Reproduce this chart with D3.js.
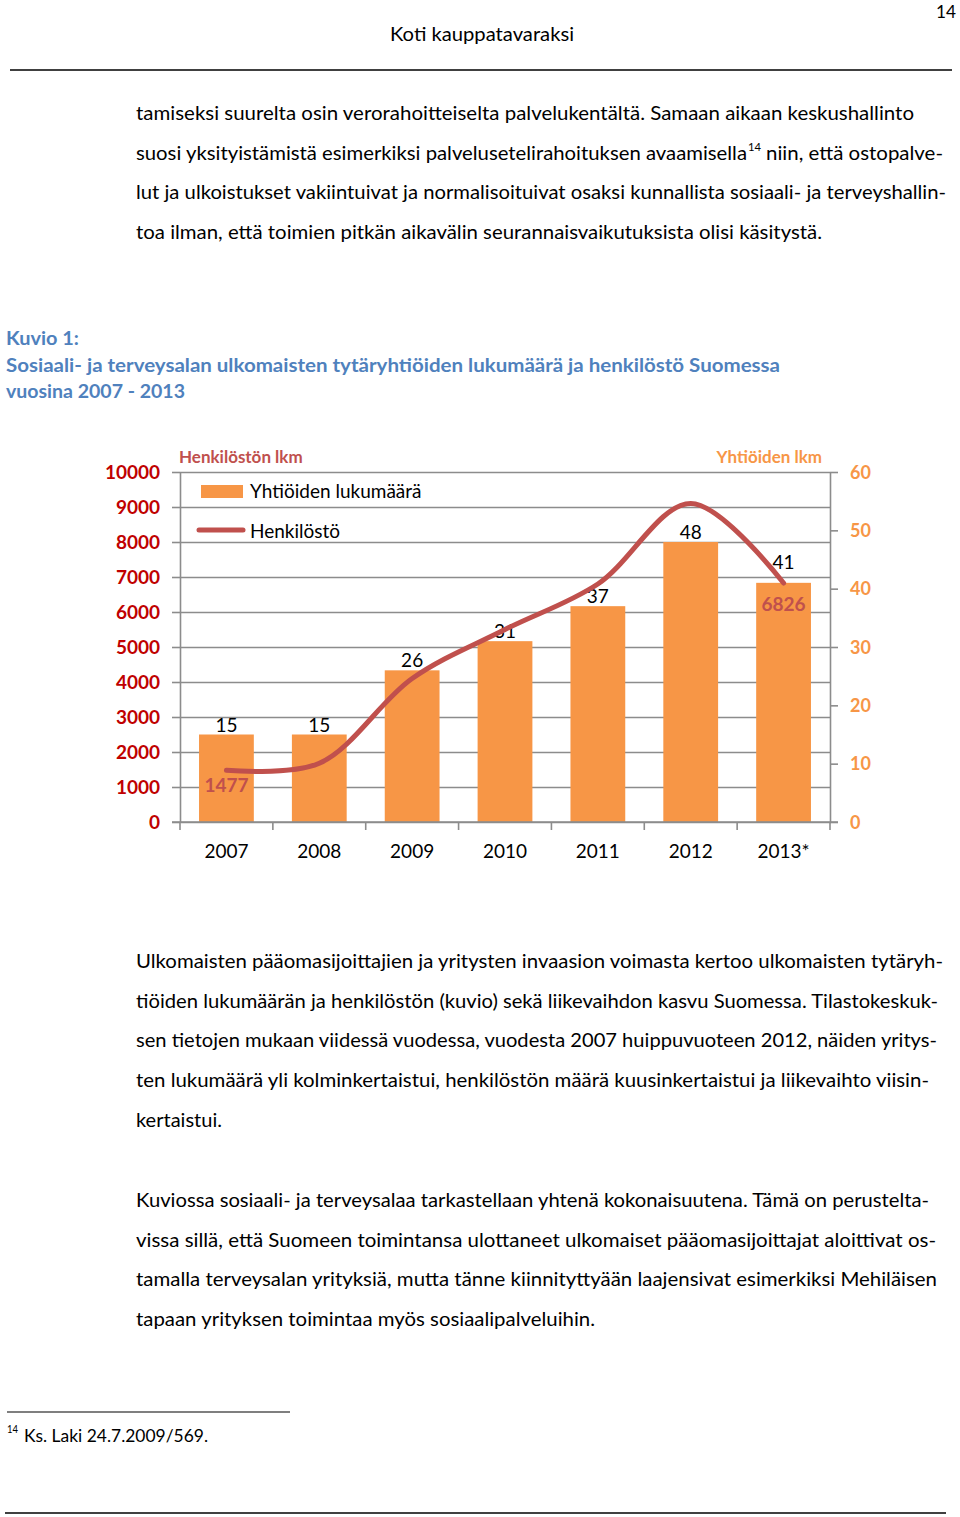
<!DOCTYPE html>
<html><head><meta charset="utf-8">
<script src="https://cdn.jsdelivr.net/npm/d3@7"></script>
<style>body{margin:0;background:#fff}svg{display:block}text{font-family:Lato,"Open Sans",sans-serif}</style>
</head><body><svg id="c" width="960" height="1517"></svg>
<script>
const years = ["2007","2008","2009","2010","2011","2012","2013*"];
const companies = [15, 15, 26, 31, 37, 48, 41];
const staff = [1477, 1680, 4100, 5500, 6800, 9100, 6826];
const leftTicks = [0,1000,2000,3000,4000,5000,6000,7000,8000,9000,10000];
const rightTicks = [0,10,20,30,40,50,60];
const staffLabels = [0, 6]; // indexes of labelled staff points

const svg = d3.select("#c");
svg.append("rect").attr("width",960).attr("height",1517).attr("fill","#fff");

// ---------- page text ----------
function line(t, x, y, opts={}) {
  const el = svg.append("text").attr("x",x).attr("y",y).text(t)
    .attr("font-size", opts.size||19).attr("fill", opts.color||"#000");
  if (opts.bold) el.attr("font-weight","bold");
  if (opts.anchor) el.attr("text-anchor", opts.anchor);
  if (opts.w) el.attr("textLength", opts.w).attr("lengthAdjust","spacingAndGlyphs");
  return el;
}
line("14", 936, 18, {size:18, w:20});
line("Koti kauppatavaraksi", 390, 41, {w:184});
svg.append("line").attr("x1",10).attr("x2",952).attr("y1",70).attr("y2",70).attr("stroke","#000").attr("stroke-width",1.3);

line("tamiseksi suurelta osin verorahoitteiselta palvelukentältä. Samaan aikaan keskushallinto", 136, 120, {w:778});
line("suosi yksityistämistä esimerkiksi palvelusetelirahoituksen avaamisella", 136, 160, {w:611});
line("14", 748, 151, {size:12, w:13});
line("niin, että ostopalve-", 766, 160, {w:177});
line("lut ja ulkoistukset vakiintuivat ja normalisoituivat osaksi kunnallista sosiaali- ja terveyshallin-", 136, 199, {w:810});
line("toa ilman, että toimien pitkän aikavälin seurannaisvaikutuksista olisi käsitystä.", 136, 239, {w:686});

const cap = "#4f81bd";
line("Kuvio 1:", 6, 345, {bold:true, color:cap, w:73});
line("Sosiaali- ja terveysalan ulkomaisten tytäryhtiöiden lukumäärä ja henkilöstö Suomessa", 6, 372, {bold:true, color:cap, w:774});
line("vuosina 2007 - 2013", 6, 398, {bold:true, color:cap, w:179});

const p2 = [
 ["Ulkomaisten pääomasijoittajien ja yritysten invaasion voimasta kertoo ulkomaisten tytäryh-", 807],
 ["tiöiden lukumäärän ja henkilöstön (kuvio) sekä liikevaihdon kasvu Suomessa. Tilastokeskuk-", 802],
 ["sen tietojen mukaan viidessä vuodessa, vuodesta 2007 huippuvuoteen 2012, näiden yritys-", 801],
 ["ten lukumäärä yli kolminkertaistui, henkilöstön määrä kuusinkertaistui ja liikevaihto viisin-", 793],
 ["kertaistui.", 86]];
p2.forEach((d,i)=>line(d[0],136,968+i*39.7,{w:d[1]}));
const p3 = [
 ["Kuviossa sosiaali- ja terveysalaa tarkastellaan yhtenä kokonaisuutena. Tämä on perustelta-", 793],
 ["vissa sillä, että Suomeen toimintansa ulottaneet ulkomaiset pääomasijoittajat aloittivat os-", 800],
 ["tamalla terveysalan yrityksiä, mutta tänne kiinnityttyään laajensivat esimerkiksi Mehiläisen", 801],
 ["tapaan yrityksen toimintaa myös sosiaalipalveluihin.", 459]];
p3.forEach((d,i)=>line(d[0],136,1207+i*39.7,{w:d[1]}));

svg.append("line").attr("x1",7).attr("x2",290).attr("y1",1412).attr("y2",1412).attr("stroke","#000").attr("stroke-width",1.2);
line("14", 7, 1433, {size:11, w:11});
line("Ks. Laki 24.7.2009/569.", 24, 1442, {size:18, w:184});
svg.append("line").attr("x1",5).attr("x2",946).attr("y1",1513).attr("y2",1513).attr("stroke","#000").attr("stroke-width",1.3);

// ---------- chart ----------
const X0 = 180, X1 = 830, Y0 = 822, Y1 = 472;
const x = d3.scaleBand().domain(years).range([X0,X1]).paddingInner(0.41).paddingOuter(0.205);
const yL = d3.scaleLinear().domain([0,10000]).range([Y0,Y1]);
const yR = d3.scaleLinear().domain([0,60]).range([Y0,Y1]);
const gridC = "#8c8c8c";

// gridlines
const grid = svg.append("g").attr("transform",`translate(${X0},0)`)
  .call(d3.axisLeft(yL).tickValues(leftTicks.slice(1)).tickSize(-(X1-X0)).tickFormat(""));
grid.select(".domain").remove();
grid.selectAll("line").attr("stroke",gridC).attr("stroke-width",1.6);

// left axis
const gl = svg.append("g").attr("transform",`translate(${X0},0)`)
  .call(d3.axisLeft(yL).tickValues(leftTicks).tickFormat(d3.format("d")).tickSize(8).tickPadding(12).tickSizeOuter(0));
gl.select(".domain").attr("stroke",gridC).attr("stroke-width",1.6);
gl.selectAll("line").attr("stroke",gridC).attr("stroke-width",1.6);
gl.selectAll("text").attr("font-size",19).attr("font-weight","bold").attr("fill","#c00000")
  .attr("font-family","Lato,sans-serif").attr("dy","0.35em");

// right axis
const gr = svg.append("g").attr("transform",`translate(${X1},0)`)
  .call(d3.axisRight(yR).tickValues(rightTicks).tickFormat(d3.format("d")).tickSize(8).tickPadding(12).tickSizeOuter(0));
gr.select(".domain").attr("stroke",gridC).attr("stroke-width",1.6);
gr.selectAll("line").attr("stroke",gridC).attr("stroke-width",1.6);
gr.selectAll("text").attr("font-size",18).attr("font-weight","bold").attr("fill","#f79646")
  .attr("font-family","Lato,sans-serif").attr("dy","0.35em");

// bars
svg.append("g").selectAll("rect").data(companies).join("rect")
  .attr("x",(d,i)=>x(years[i])).attr("width",x.bandwidth())
  .attr("y",d=>yR(d)).attr("height",d=>Y0-yR(d)).attr("fill","#f79646");

// bottom axis
const step = (X1-X0)/years.length;
const gb = svg.append("g").attr("transform",`translate(0,${Y0})`)
  .call(d3.axisBottom(x).tickSize(0).tickPadding(23).tickSizeOuter(0));
gb.select(".domain").attr("stroke",gridC).attr("stroke-width",1.6);
gb.selectAll("text").attr("font-size",19).attr("fill","#000").attr("font-family","Lato,sans-serif");
svg.append("g").selectAll("line").data(d3.range(years.length+1)).join("line")
  .attr("x1",i=>X0+i*step).attr("x2",i=>X0+i*step).attr("y1",Y0).attr("y2",Y0+8)
  .attr("stroke",gridC).attr("stroke-width",1.6);
svg.append("line").attr("x1",X0-8).attr("x2",X1+8).attr("y1",Y0).attr("y2",Y0).attr("stroke",gridC).attr("stroke-width",1.6);

// bar labels
svg.append("g").selectAll("text").data(companies).join("text")
  .attr("x",(d,i)=>x(years[i])+x.bandwidth()/2).attr("y",(d,i)=>yR(d)-(i===6?14:3))
  .attr("text-anchor","middle").attr("font-size",19).attr("fill","#000").text(d=>d);

// staff line
const lineGen = d3.line().x((d,i)=>x(years[i])+x.bandwidth()/2).y(d=>yL(d)).curve(d3.curveCatmullRom.alpha(0.5));
svg.append("path").datum(staff).attr("d",lineGen).attr("fill","none")
  .attr("stroke","#c0504d").attr("stroke-width",5).attr("stroke-linecap","round");

// staff labels
svg.append("g").selectAll("text").data(staffLabels).join("text")
  .attr("x",i=>x(years[i])+x.bandwidth()/2).attr("y",i=>i===0?yL(staff[i])+22:yL(staff[i])+28)
  .attr("text-anchor","middle").attr("font-size",19).attr("font-weight","bold").attr("fill","#c0504d")
  .text(i=>staff[i]);

// axis titles
line("Henkilöstön lkm", 179, 463, {size:17, bold:true, color:"#c0504d"});
line("Yhtiöiden lkm", 822, 463, {size:17, bold:true, color:"#f79646", anchor:"end"});

// legend
svg.append("rect").attr("x",201).attr("y",485).attr("width",42).attr("height",13).attr("fill","#f79646");
line("Yhtiöiden lukumäärä", 250, 498, {size:19});
svg.append("line").attr("x1",199).attr("x2",243).attr("y1",530).attr("y2",530)
  .attr("stroke","#c0504d").attr("stroke-width",5).attr("stroke-linecap","round");
line("Henkilöstö", 250, 538, {size:19});
</script></body></html>
